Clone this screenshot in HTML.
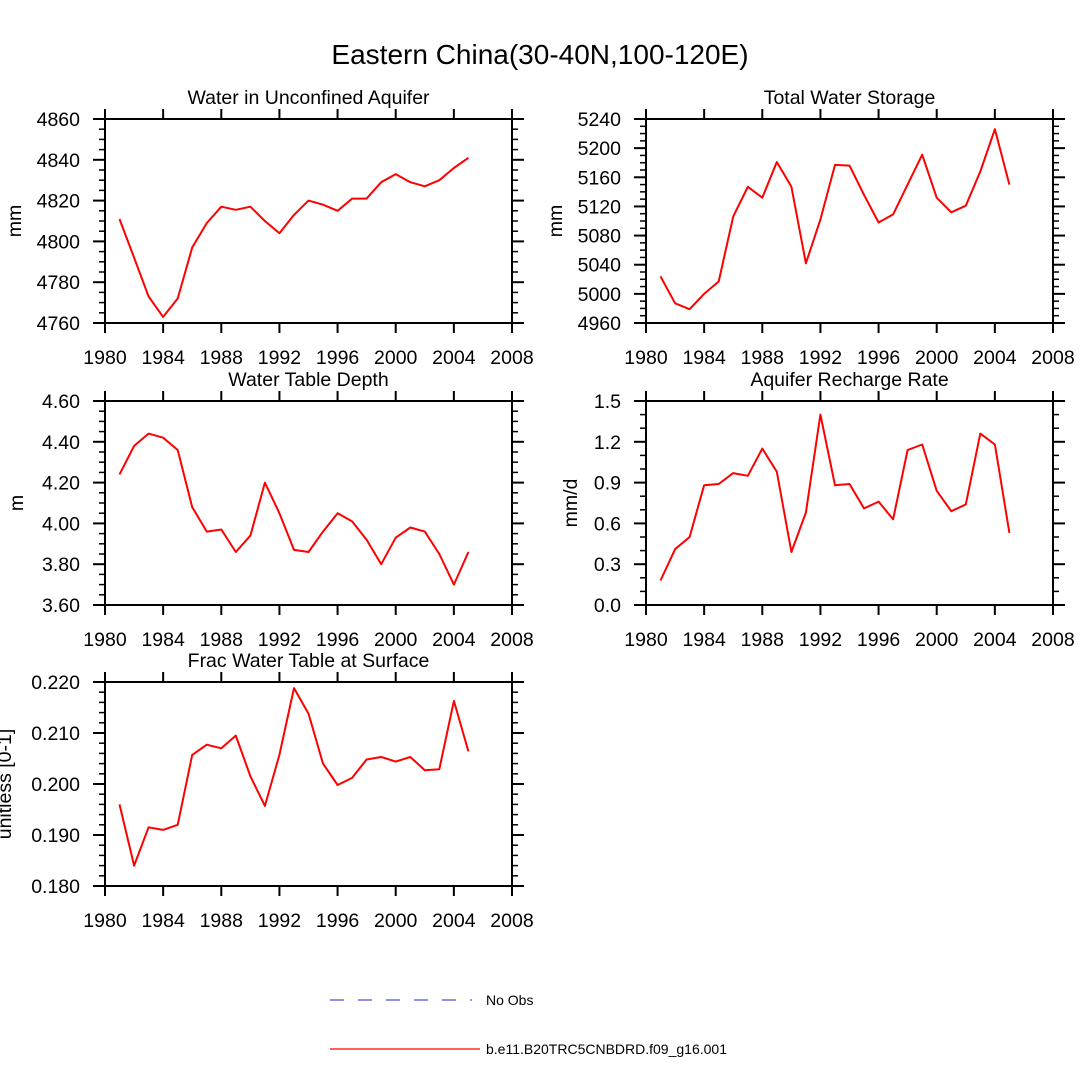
<!DOCTYPE html>
<html><head><meta charset="utf-8"><style>
html,body{margin:0;padding:0;background:#fff;}
svg{display:block;font-family:"Liberation Sans",Arial,sans-serif;}
</style></head><body>
<svg id="chart" width="1080" height="1080" viewBox="0 0 1080 1080">
<text x="540" y="64" font-size="28" text-anchor="middle">Eastern China(30-40N,100-120E)</text>
<g>
<line x1="330" y1="1000" x2="472" y2="1000" stroke="#2222cc" stroke-width="1" stroke-dasharray="14,14"/>
<text x="486" y="1005" font-size="14">No Obs</text>
<line x1="330" y1="1049" x2="480" y2="1049" stroke="#ff0000" stroke-width="1.2"/>
<text x="486" y="1054" font-size="14">b.e11.B20TRC5CNBDRD.f09_g16.001</text>
</g>
</svg>
<script>
const years = [1981,1982,1983,1984,1985,1986,1987,1988,1989,1990,1991,1992,1993,1994,1995,1996,1997,1998,1999,2000,2001,2002,2003,2004,2005];
const xTicks = [1980,1984,1988,1992,1996,2000,2004,2008];
const aquiferWater = [4811,4792,4773,4763,4772,4797,4809,4817,4815.5,4817,4810,4804,4813,4820,4818,4815,4821,4821,4829,4833,4829,4827,4830,4836,4841];
const totalStorage = [5024,4987,4979,5000,5017,5106,5147,5132,5181,5147,5042,5102,5177,5176,5136,5098,5109,5150,5191,5132,5112,5121,5168,5226,5150];
const tableDepth = [4.24,4.38,4.44,4.42,4.36,4.08,3.96,3.97,3.86,3.94,4.20,4.05,3.87,3.86,3.96,4.05,4.01,3.92,3.80,3.93,3.98,3.96,3.85,3.70,3.86];
const rechargeRate = [0.18,0.41,0.50,0.88,0.89,0.97,0.95,1.15,0.98,0.39,0.68,1.40,0.88,0.89,0.71,0.76,0.63,1.14,1.18,0.84,0.69,0.74,1.26,1.18,0.53];
const fracSurface = [0.196,0.184,0.1915,0.191,0.192,0.2057,0.2077,0.207,0.2095,0.2015,0.1957,0.2057,0.2188,0.2138,0.204,0.1998,0.2012,0.2048,0.2053,0.2044,0.2053,0.2027,0.2029,0.2163,0.2064];
const ticks1 = ["4760","4780","4800","4820","4840","4860"];
const ticks2 = ["4960","5000","5040","5080","5120","5160","5200","5240"];
const ticks3 = ["3.60","3.80","4.00","4.20","4.40","4.60"];
const ticks4 = ["0.0","0.3","0.6","0.9","1.2","1.5"];
const ticks5 = ["0.180","0.190","0.200","0.210","0.220"];

const NS="http://www.w3.org/2000/svg";
const svg=document.getElementById('chart');
function mk(tag,attrs,parent){const e=document.createElementNS(NS,tag);for(const k in attrs)e.setAttribute(k,attrs[k]);(parent||svg).appendChild(e);return e;}

const panels=[
 {name:'unconfined-aquifer',title:'Water in Unconfined Aquifer',yl:'mm',ylx:14,x0:105,y0:119,data:aquiferWater,ticks:ticks1,minor:4},
 {name:'total-water-storage',title:'Total Water Storage',yl:'mm',ylx:555,x0:646,y0:119,data:totalStorage,ticks:ticks2,minor:4},
 {name:'water-table-depth',title:'Water Table Depth',yl:'m',ylx:16,x0:105,y0:401,data:tableDepth,ticks:ticks3,minor:4},
 {name:'aquifer-recharge',title:'Aquifer Recharge Rate',yl:'mm/d',ylx:570,x0:646,y0:401,data:rechargeRate,ticks:ticks4,minor:3},
 {name:'frac-water-table',title:'Frac Water Table at Surface',yl:'unitless [0-1]',ylx:4,x0:105,y0:682,data:fracSurface,ticks:ticks5,minor:5}
];
const W=407,H=204;
panels.forEach(p=>{
 const g=mk('g',{});
 
 
 const ymin=parseFloat(p.ticks[0]),ymax=parseFloat(p.ticks[p.ticks.length-1]);
 const xs=v=>p.x0+(v-1980)/(2008-1980)*W;
 const ys=v=>p.y0+H-(v-ymin)/(ymax-ymin)*H;
 const t=mk('text',{x:p.x0+W/2,y:p.y0-15,'font-size':19.5,'text-anchor':'middle'},g);t.textContent=p.title;
 
 
 const yt=mk('text',{x:0,y:0,'font-size':19.5,'text-anchor':'middle',transform:`translate(${p.ylx+7},${p.y0+H/2}) rotate(-90)`},g);yt.textContent=p.yl;
 
 
 mk('rect',{x:p.x0,y:p.y0,width:W,height:H,fill:'none',stroke:'#000','stroke-width':2},g);
 xTicks.forEach(v=>{
  const x=xs(v);
  mk('line',{x1:x,y1:p.y0+H,x2:x,y2:p.y0+H+10,stroke:'#000','stroke-width':2},g);
  mk('line',{x1:x,y1:p.y0,x2:x,y2:p.y0-10,stroke:'#000','stroke-width':2},g);
  const l=mk('text',{x:x,y:p.y0+H+41,'font-size':19.5,'text-anchor':'middle'},g);l.textContent=v;
  
  
 });
 const step=(ymax-ymin)/(p.ticks.length-1);
 p.ticks.forEach((s,i)=>{
  const v=parseFloat(s),y=ys(v);
  mk('line',{x1:p.x0-12,y1:y,x2:p.x0,y2:y,stroke:'#000','stroke-width':2},g);
  mk('line',{x1:p.x0+W,y1:y,x2:p.x0+W+12,y2:y,stroke:'#000','stroke-width':2},g);
  const l=mk('text',{x:p.x0-25,y:y+7,'font-size':19.5,'text-anchor':'end'},g);l.textContent=s;
  
  
  if(i<p.ticks.length-1){for(let k=1;k<p.minor;k++){const ym=ys(v+step*k/p.minor);
   mk('line',{x1:p.x0-6,y1:ym,x2:p.x0,y2:ym,stroke:'#000','stroke-width':1.5},g);
   mk('line',{x1:p.x0+W,y1:ym,x2:p.x0+W+6,y2:ym,stroke:'#000','stroke-width':1.5},g);}}
 });
 const pts=years.map((yr,i)=>xs(yr).toFixed(1)+','+ys(p.data[i]).toFixed(1)).join(' ');
 const ln=mk('polyline',{points:pts,fill:'none',stroke:'#ff0000','stroke-width':2,'stroke-linejoin':'round'},g);
 
 
});
</script>
</body></html>
